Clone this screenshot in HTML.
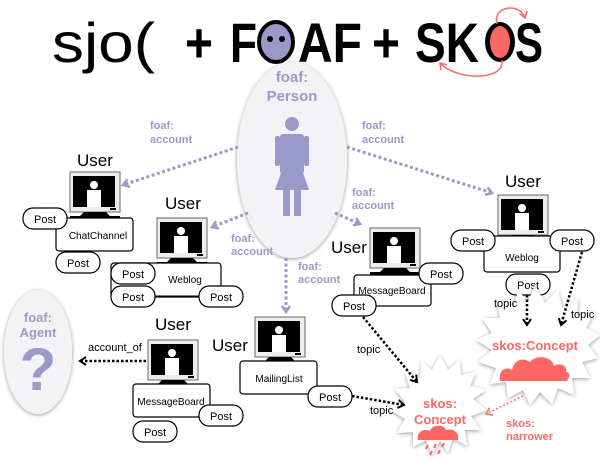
<!DOCTYPE html>
<html><head><style>body{margin:0;background:#fff}svg{display:block}</style></head><body>
<svg width="600" height="467" viewBox="0 0 600 467" xmlns="http://www.w3.org/2000/svg" font-family="Liberation Sans, sans-serif">
<defs>
<g id="pc">
<rect x="0" y="0" width="50" height="40" fill="#eee" stroke="#666" stroke-width="1"/>
<rect x="3" y="4" width="42" height="31" fill="#000"/>
<circle cx="24" cy="13" r="4" fill="#fff"/>
<rect x="17" y="18" width="14" height="17" fill="#fff"/>
<rect x="40" y="36" width="6" height="2" fill="#000"/>
<path d="M14 40 L36 40 L40 44 L50 44 L50 47 L0 47 L0 44 L10 44 Z" fill="#000"/>
</g>
<g id="post"><rect x="0" y="0" width="44" height="21" rx="10" fill="#fff" stroke="#000" stroke-width="1.2"/><text x="22" y="15" font-size="11" text-anchor="middle">Post</text></g>
<marker id="ap" markerWidth="10" markerHeight="10" refX="7" refY="5" orient="auto" markerUnits="userSpaceOnUse"><path d="M1 1 L7 5 L1 9" fill="none" stroke="#9b99c9" stroke-width="2.5"/></marker>
<marker id="ab" markerWidth="10" markerHeight="10" refX="7" refY="5" orient="auto" markerUnits="userSpaceOnUse"><path d="M1 1 L7 5 L1 9" fill="none" stroke="#000" stroke-width="2"/></marker>
<marker id="ar" markerWidth="10" markerHeight="10" refX="7" refY="5" orient="auto" markerUnits="userSpaceOnUse"><path d="M1 1 L7 5 L1 9" fill="none" stroke="#f66" stroke-width="1.5"/></marker>
<filter id="sh" x="-20%" y="-20%" width="140%" height="140%"><feGaussianBlur in="SourceAlpha" stdDeviation="2"/><feOffset dx="0" dy="1"/><feComponentTransfer><feFuncA type="linear" slope="0.4"/></feComponentTransfer><feMerge><feMergeNode/><feMergeNode in="SourceGraphic"/></feMerge></filter>
</defs>

<!-- title -->
<g font-size="56">
<text x="52" y="62" textLength="103" lengthAdjust="spacingAndGlyphs">sjo(</text>
<g font-weight="bold">
<text x="185" y="62" textLength="28" lengthAdjust="spacingAndGlyphs">+</text>
<text x="230" y="62" textLength="27" lengthAdjust="spacingAndGlyphs">F</text>
<text x="298" y="62" textLength="64" lengthAdjust="spacingAndGlyphs">AF</text>
<text x="372" y="62" textLength="28" lengthAdjust="spacingAndGlyphs">+</text>
<text x="415" y="62" textLength="64" lengthAdjust="spacingAndGlyphs">SK</text>
<text x="515" y="62" textLength="28" lengthAdjust="spacingAndGlyphs">S</text>
</g></g>
<ellipse cx="276" cy="42" rx="17" ry="20" fill="#9b99c9" stroke="#000" stroke-width="4"/>
<circle cx="270" cy="39" r="3" fill="#000"/><circle cx="282" cy="39" r="3" fill="#000"/>
<ellipse cx="500" cy="42" rx="15" ry="20" fill="#000"/>
<ellipse cx="500" cy="42" rx="10" ry="16" fill="#f66"/>
<path d="M497 24 C492 6 520 2 525 18" fill="none" stroke="#f66" stroke-width="1.5" marker-end="url(#ar)"/>
<path d="M502 60 C505 82 455 80 440 63" fill="none" stroke="#f66" stroke-width="1.5" marker-end="url(#ar)"/>

<!-- person ellipse -->
<ellipse cx="292" cy="160" rx="55" ry="98" fill="#f3f3f6" filter="url(#sh)"/>
<text x="292" y="82" font-size="15" font-weight="bold" fill="#9b99c9" text-anchor="middle">foaf:</text>
<text x="292" y="101" font-size="15" font-weight="bold" fill="#9b99c9" text-anchor="middle">Person</text>
<circle cx="292" cy="124" r="7" fill="#9b99c9"/>
<rect x="280" y="134" width="24" height="40" rx="3" fill="#9b99c9"/>
<rect x="275" y="136" width="5" height="30" rx="2" fill="#9b99c9"/><rect x="304" y="136" width="5" height="30" rx="2" fill="#9b99c9"/>
<path d="M282 170 L302 170 L309 190 L275 190 Z" fill="#9b99c9"/>
<rect x="283" y="188" width="7" height="28" fill="#9b99c9"/><rect x="294" y="188" width="7" height="28" fill="#9b99c9"/>

<!-- agent ellipse -->
<ellipse cx="38" cy="352" rx="34" ry="62" fill="#f3f3f6" filter="url(#sh)"/>
<text x="38" y="322" font-size="13" font-weight="bold" fill="#9b99c9" text-anchor="middle">foaf:</text>
<text x="38" y="337" font-size="13" font-weight="bold" fill="#9b99c9" text-anchor="middle">Agent</text>
<text x="38" y="390" font-size="60" font-weight="bold" fill="#9b99c9" text-anchor="middle">?</text>

<!-- purple arrows -->
<g stroke="#9b99c9" stroke-width="3" stroke-dasharray="3 2.5" fill="none">
<path d="M238 147 L123 185" marker-end="url(#ap)"/>
<path d="M248 213 L212 227" marker-end="url(#ap)"/>
<path d="M347 147 L492 193" marker-end="url(#ap)"/>
<path d="M335 213 L360 224" marker-end="url(#ap)"/>
<path d="M286 258 L286 312" marker-end="url(#ap)"/>
</g>
<g font-size="11" font-weight="bold" fill="#9b99c9">
<text x="150" y="129">foaf:</text><text x="150" y="143">account</text>
<text x="362" y="129">foaf:</text><text x="362" y="143">account</text>
<text x="352" y="196">foaf:</text><text x="352" y="209">account</text>
<text x="231" y="242">foaf:</text><text x="231" y="255">account</text>
<text x="298" y="270">foaf:</text><text x="298" y="283">account</text>
</g>

<!-- User labels -->
<g font-size="17">
<text x="77" y="166">User</text><text x="165" y="209">User</text>
<text x="331" y="253">User</text><text x="505" y="187">User</text>
<text x="155" y="330">User</text><text x="212" y="351">User</text>
</g>

<!-- group 1 -->
<use href="#pc" x="70" y="172"/>
<rect x="56" y="218" width="77" height="33" rx="3" fill="#fff" stroke="#000" stroke-width="1.2"/>
<text x="98" y="239" font-size="10" text-anchor="middle">ChatChannel</text>
<use href="#post" x="23" y="208"/><use href="#post" x="56" y="252"/>

<!-- group 2 -->
<use href="#pc" x="157" y="218"/>
<rect x="111" y="263" width="110" height="34" rx="3" fill="#fff" stroke="#000" stroke-width="1.2"/>
<text x="185" y="283" font-size="10" text-anchor="middle">Weblog</text>
<line x1="150" y1="296" x2="205" y2="296" stroke="#000"/>
<use href="#post" x="111" y="263"/><use href="#post" x="111" y="286"/><use href="#post" x="199" y="286"/>

<!-- group 3 -->
<use href="#pc" x="370" y="228"/>
<rect x="354" y="275" width="77" height="31" rx="3" fill="#fff" stroke="#000" stroke-width="1.2"/>
<text x="392" y="294" font-size="10" text-anchor="middle">MessageBoard</text>
<use href="#post" x="419" y="263"/><use href="#post" x="332" y="295"/>

<!-- group 4 -->
<use href="#pc" x="498" y="195"/>
<rect x="484" y="236" width="76" height="36" rx="3" fill="#fff" stroke="#000" stroke-width="1.2"/>
<text x="522" y="261" font-size="10" text-anchor="middle">Weblog</text>
<use href="#post" x="451" y="230"/><use href="#post" x="550" y="230"/><use href="#post" x="506" y="274"/>

<!-- group 5 -->
<use href="#pc" x="148" y="340"/>
<rect x="133" y="384" width="77" height="33" rx="3" fill="#fff" stroke="#000" stroke-width="1.2"/>
<text x="171" y="405" font-size="10" text-anchor="middle">MessageBoard</text>
<use href="#post" x="199" y="405"/><use href="#post" x="133" y="421"/>

<!-- group 6 -->
<use href="#pc" x="255" y="317"/>
<rect x="240" y="361" width="77" height="33" rx="3" fill="#fff" stroke="#000" stroke-width="1.2"/>
<text x="279" y="382" font-size="10" text-anchor="middle">MailingList</text>
<use href="#post" x="308" y="386"/>

<!-- concept bursts -->
<g filter="url(#sh)">
<polygon fill="#fff" points="440,355 448,370 460,360 461,375 476,372 470,386 486,390 473,399 487,410 471,416 481,430 465,430 467,446 453,438 448,453 440,441 432,455 426,440 413,447 413,432 397,433 405,419 391,410 405,402 395,389 410,388 405,373 420,377 422,362 432,370"/>
<polygon fill="#fff" points="535,285 545,303 558,290 562,308 578,298 577,316 595,312 586,328 600,335 588,345 598,358 582,362 590,378 572,378 574,395 558,388 552,404 540,392 530,405 523,390 508,398 506,382 490,384 496,368 478,362 492,350 476,340 492,333 482,318 500,318 497,300 514,306 518,290 528,302"/>
</g>
<text x="440" y="408" font-size="13" font-weight="bold" fill="#f66" text-anchor="middle">skos:</text>
<text x="440" y="424" font-size="13" font-weight="bold" fill="#f66" text-anchor="middle">Concept</text>
<path d="M418 440 C416 432 424 428 430 431 C432 424 444 424 446 430 C452 428 460 432 458 440 Z" fill="#f66"/>
<g stroke="#f66" stroke-width="2"><line x1="428" y1="445" x2="426" y2="449"/><line x1="436" y1="444" x2="434" y2="448"/><line x1="444" y1="443" x2="442" y2="447"/><line x1="432" y1="451" x2="430" y2="455"/><line x1="440" y1="450" x2="438" y2="454"/></g>
<text x="535" y="350" font-size="13" font-weight="bold" fill="#f66" text-anchor="middle">skos:Concept</text>
<path d="M500 381 C498 370 506 366 512 370 C514 360 522 357 530 362 C536 354 552 356 554 366 C560 362 568 366 566 372 C572 372 568 380 567 381 Z" fill="#f66"/>

<!-- black topic arrows -->
<g stroke="#000" stroke-width="2.5" stroke-dasharray="2.5 2" fill="none">
<path d="M363 317 L417 382" marker-end="url(#ab)"/>
<path d="M352 396 L404 405" marker-end="url(#ab)"/>
<path d="M527 295 L527 325" marker-end="url(#ab)"/>
<path d="M582 252 L561 325" marker-end="url(#ab)"/>
<path d="M146 361 L80 361" marker-end="url(#ab)"/>
</g>
<path d="M523 396 L486 414" stroke="#f66" stroke-width="1.5" stroke-dasharray="2 2" fill="none" marker-end="url(#ar)"/>
<g font-size="11">
<text x="357" y="353">topic</text><text x="370" y="414">topic</text>
<text x="494" y="307">topic</text><text x="571" y="318">topic</text>
<text x="88" y="351">account_of</text>
</g>
<text x="506" y="427" font-size="11" font-weight="bold" fill="#f66">skos:</text>
<text x="506" y="440" font-size="11" font-weight="bold" fill="#f66">narrower</text>
</svg>
</body></html>
